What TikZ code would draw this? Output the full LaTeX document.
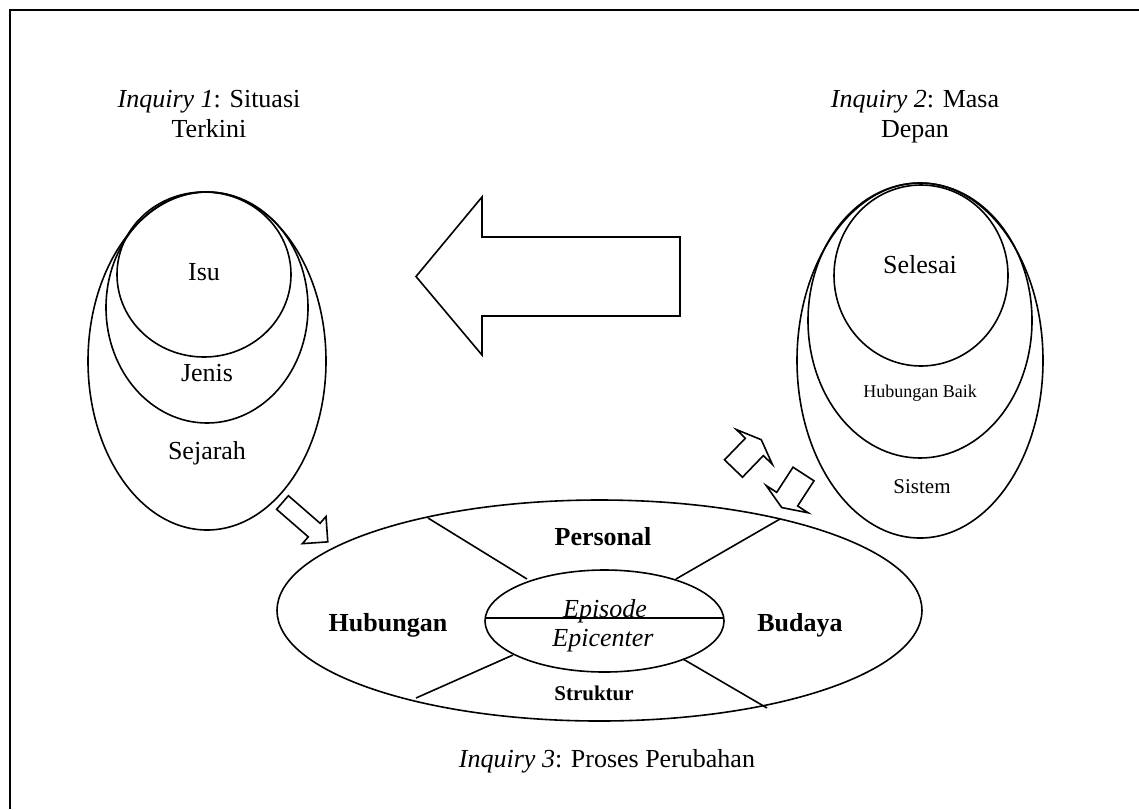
\documentclass[tikz,border=0pt]{standalone}
\usepackage{fontspec}
\setmainfont{Liberation Serif}
\usepackage{tikz}

\tikzset{
  lbl/.style={anchor=base, inner sep=0pt, font=\fontsize{13}{15}\selectfont},
  lblmid/.style={lbl, font=\fontsize{10.5}{12}\selectfont},
  lblsmall/.style={lbl, font=\fontsize{9}{11}\selectfont},
  title/.style={anchor=north, inner sep=0pt, align=center, font=\fontsize{13}{15}\selectfont},
  blockarrow/.style={fill=white, draw=black},
}

\begin{document}
\begin{tikzpicture}[x=0.5pt, y=-0.5pt, line width=0.8pt]
    \useasboundingbox (0,0) rectangle (1139,809);
    \draw[line width=1pt] (1139,10) -- (10,10) -- (10,809);

    % inquiry 1
    \node[title] (inqA) at (209,89) {\textit{Inquiry 1}: Situasi\\Terkini};
    \draw (207,361) ellipse [x radius=119, y radius=169];
    \draw (207,307.5) ellipse [x radius=101, y radius=115.5];
    \draw (204,274.5) ellipse [x radius=87, y radius=82.5];
    \node[lbl] (isu) at (204,280) {Isu};
    \node[lbl] (jenis) at (207,381) {Jenis};
    \node[lbl] (sejarah) at (207,459) {Sejarah};

    % inquiry 2
    \node[title] (inqB) at (915,89) {\textit{Inquiry 2}: Masa\\Depan};
    \draw (920,360.5) ellipse [x radius=123, y radius=177.5];
    \draw (920,320.5) ellipse [x radius=112, y radius=137.5];
    \draw (921,275.5) ellipse [x radius=87, y radius=90.5];
    \node[lbl] (selesai) at (920,273) {Selesai};
    \node[lblsmall] (baik) at (920,397) {Hubungan Baik};
    \node[lblmid] (sistem) at (922,493) {Sistem};

    % big arrow
    \draw[blockarrow] (680,237) -- (482,237) -- (482,197) -- (416,276.5)
        -- (482,355) -- (482,316) -- (680,316) -- cycle;

    % small arrows
    \draw[blockarrow, shift={(282.5,502.5)}, rotate=-41]
        (0,9) -- (42,9) -- (42,18) -- (60,0) -- (42,-18) -- (42,-9) -- (0,-9) -- cycle;
    \draw[blockarrow, shift={(733.5,468.5)}, rotate=46]
        (0,12.5) -- (30,12.5) -- (30,25) -- (40,0) -- (30,-25) -- (30,-12.5) -- (0,-12.5) -- cycle;
    \draw[blockarrow, shift={(803.5,474)}, rotate=-123]
        (0,12.5) -- (30,12.5) -- (30,25) -- (40,0) -- (30,-25) -- (30,-12.5) -- (0,-12.5) -- cycle;

    % inquiry 3
    \draw (599.5,610.5) ellipse [x radius=322.5, y radius=110.5];
    \draw (604.5,621) ellipse [x radius=119.5, y radius=51];
    \coordinate (midL) at (485,618);
    \coordinate (midR) at (724,618);
    \coordinate (ulOut) at (428,518);
    \coordinate (ulIn) at (527,579);
    \coordinate (urOut) at (780,519);
    \coordinate (urIn) at (676,579);
    \coordinate (llOut) at (416,698);
    \coordinate (llIn) at (513,655);
    \coordinate (lrOut) at (767,708);
    \coordinate (lrIn) at (683,659);
    \draw (midL) -- (midR);
    \draw (ulOut) -- (ulIn);
    \draw (urOut) -- (urIn);
    \draw (llOut) -- (llIn);
    \draw (lrOut) -- (lrIn);

    \node[lbl] (personal) at (603,545) {\textbf{Personal}};
    \node[lbl] (hubungan) at (388,631) {\textbf{Hubungan}};
    \node[lbl] (budaya) at (800,631) {\textbf{Budaya}};
    \node[lblmid] (struktur) at (594,700) {\textbf{Struktur}};
    \node[lbl] (episode) at (605,617) {\textit{Episode}};
    \node[lbl] (epicenter) at (603,646) {\textit{Epicenter}};
    \node[lbl] (inqC) at (607,767) {\textit{Inquiry 3}: Proses Perubahan};
\end{tikzpicture}
\end{document}
